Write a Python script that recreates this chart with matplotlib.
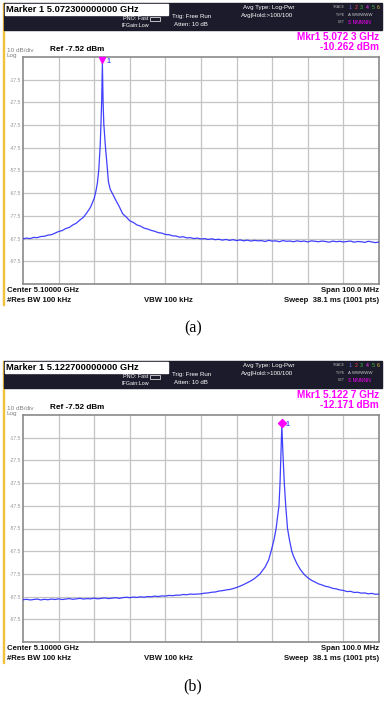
import matplotlib.pyplot as plt
from matplotlib.patches import Rectangle
import matplotlib.transforms as mtransforms

plt.rcParams['font.family'] = ['Liberation Sans', 'DejaVu Sans']

W, H = 386, 701

# analyser settings
center_ghz = 5.10
span_ghz = 0.10
ref_level = -7.52
db_per_div = 10
ytick_labels = ["-17.5", "-27.5", "-37.5", "-47.5", "-57.5", "-67.5", "-77.5", "-87.5", "-97.5"]

# trace (a)
freq_a = [5.050, 5.051, 5.052, 5.053, 5.054, 5.055, 5.056, 5.057, 5.058, 5.059,
          5.060, 5.061, 5.062, 5.063, 5.064, 5.065, 5.066, 5.067, 5.068, 5.069,
          5.070, 5.0705, 5.0709, 5.0713, 5.0717, 5.0719, 5.0721, 5.0723, 5.0725, 5.0727,
          5.0731, 5.0736, 5.0740, 5.0745, 5.0751, 5.076, 5.077, 5.078, 5.079, 5.080,
          5.081, 5.082, 5.083, 5.084, 5.085, 5.086, 5.087, 5.088, 5.089, 5.090,
          5.091, 5.092, 5.093, 5.094, 5.095, 5.096, 5.097, 5.098, 5.099, 5.100,
          5.101, 5.102, 5.103, 5.104, 5.105, 5.106, 5.107, 5.108, 5.109, 5.110,
          5.111, 5.112, 5.113, 5.114, 5.115, 5.116, 5.117, 5.118, 5.119, 5.120,
          5.121, 5.122, 5.123, 5.124, 5.125, 5.126, 5.127, 5.128, 5.129, 5.130,
          5.131, 5.132, 5.133, 5.134, 5.135, 5.136, 5.137, 5.138, 5.139, 5.140,
          5.141, 5.142, 5.143, 5.144, 5.145, 5.146, 5.147, 5.148, 5.149, 5.150]
level_a = [-87.6, -87.3, -87.5, -87.0, -87.1, -86.6, -86.5, -86.0, -85.8, -85.1,
           -84.4, -84.0, -83.1, -82.6, -81.5, -80.7, -79.3, -78.1, -76.0, -73.6,
           -69.8, -66.5, -63.0, -57.0, -46.0, -37.0, -27.0, -10.262, -27.5, -37.0,
           -46.0, -55.0, -62.5, -65.8, -67.6, -70.4, -73.3, -76.6, -78.0, -79.7,
           -80.4, -81.5, -82.0, -82.9, -83.3, -83.9, -84.3, -84.9, -85.1, -85.7,
           -85.8, -86.3, -86.4, -86.9, -86.7, -87.2, -87.1, -87.5, -87.3, -87.7,
           -87.5, -87.9, -87.6, -88.0, -87.8, -88.2, -87.9, -88.3, -88.0, -88.4,
           -88.1, -88.5, -88.2, -88.6, -88.3, -88.5, -88.4, -88.8, -88.3, -88.6,
           -88.5, -88.9, -88.4, -88.7, -88.6, -88.9, -88.5, -88.8, -88.6, -89.0,
           -88.5, -88.7, -88.9, -88.6, -88.8, -89.1, -88.6, -88.9, -88.7, -89.0,
           -88.8, -88.6, -89.1, -88.8, -88.9, -89.2, -88.7, -89.0, -89.3, -89.0]
marker_a = (5.0723, -10.262)

# trace (b)
freq_b = [5.050, 5.051, 5.052, 5.053, 5.054, 5.055, 5.056, 5.057, 5.058, 5.059,
          5.060, 5.061, 5.062, 5.063, 5.064, 5.065, 5.066, 5.067, 5.068, 5.069,
          5.070, 5.071, 5.072, 5.073, 5.074, 5.075, 5.076, 5.077, 5.078, 5.079,
          5.080, 5.081, 5.082, 5.083, 5.084, 5.085, 5.086, 5.087, 5.088, 5.089,
          5.090, 5.091, 5.092, 5.093, 5.094, 5.095, 5.096, 5.097, 5.098, 5.099,
          5.100, 5.101, 5.102, 5.103, 5.104, 5.105, 5.106, 5.107, 5.108, 5.109,
          5.110, 5.111, 5.112, 5.113, 5.114, 5.115, 5.116, 5.1166, 5.117, 5.118,
          5.119, 5.1197, 5.1205, 5.1211, 5.1219, 5.1222, 5.1224, 5.1227, 5.1231, 5.1234,
          5.1238, 5.1243, 5.1249, 5.1255, 5.126, 5.127, 5.128, 5.129, 5.130, 5.131,
          5.132, 5.133, 5.134, 5.135, 5.136, 5.137, 5.138, 5.139, 5.140, 5.141,
          5.142, 5.143, 5.144, 5.145, 5.146, 5.147, 5.148, 5.149, 5.150]
level_b = [-88.9, -88.7, -89.0, -88.8, -88.6, -89.0, -88.7, -88.9, -88.6, -88.8,
           -88.5, -88.8, -88.6, -88.4, -88.7, -88.5, -88.3, -88.6, -88.4, -88.5,
           -88.2, -88.5, -88.3, -88.1, -88.4, -88.2, -88.0, -88.3, -88.0, -87.8,
           -88.0, -87.7, -87.9, -87.6, -87.8, -87.5, -87.6, -87.3, -87.5, -87.2,
           -87.3, -87.0, -87.1, -86.9, -86.9, -86.6, -86.7, -86.4, -86.5, -86.4,
           -86.3, -86.0, -85.9, -85.6, -85.5, -85.1, -84.9, -84.6, -84.4, -84.0,
           -83.5, -82.9, -82.2, -81.4, -80.6, -79.6, -78.3, -77.5, -76.6, -74.5,
           -71.4, -67.5, -62.5, -57.5, -47.5, -37.5, -27.5, -12.171, -27.5, -37.5,
           -47.5, -57.5, -63.0, -67.5, -69.8, -73.2, -75.8, -77.8, -79.2, -80.3,
           -81.1, -81.9, -82.4, -83.0, -83.3, -83.9, -84.1, -84.6, -84.8, -85.3,
           -85.2, -85.7, -85.6, -86.0, -85.9, -86.3, -86.1, -86.5, -86.4]
marker_b = (5.1227, -12.171)

DARK = '#1b1b2b'
MAG = '#ff00ff'
TRACE = '#2b2bff'


def fx(x):
    return x / W


def fy(y):
    return 1 - y / H


def draw_panel(fig, off, freq, level, mkr, marker_title, mkr_freq_txt, mkr_lvl_txt, mshape, caption):
    def txt(x, y, s, **kw):
        kw.setdefault('va', 'center')
        fig.text(fx(x), fy(y + off), s, **kw)

    # left yellow edge + header band
    fig.patches.append(Rectangle((fx(2.5), fy(off + 305)), 1.6 / W, 302 / H,
                                 transform=fig.transFigure, color='#f3c13a', zorder=1))
    fig.patches.append(Rectangle((fx(4), fy(off + 30)), 378 / W, 27 / H,
                                 transform=fig.transFigure, color=DARK, zorder=1))
    fig.patches.append(Rectangle((fx(5), fy(off + 15)), 163 / W, 11 / H,
                                 transform=fig.transFigure, color='white', zorder=2))

    txt(6, 9.5, marker_title, fontsize=6.7, fontweight='bold', color='black', zorder=3)
    txt(123, 18.5, "PNO: Fast", fontsize=3.9, color='white')
    txt(122, 25.5, "IFGain:Low", fontsize=3.9, color='white')
    fig.patches.append(Rectangle((fx(150), fy(off + 21)), 10 / W, 4 / H, transform=fig.transFigure,
                                 fill=False, ec='white', lw=0.5, zorder=3))
    txt(172, 16.5, "Trig: Free Run", fontsize=4.4, color='white')
    txt(174, 24.5, "Atten: 10 dB", fontsize=4.4, color='white')
    txt(243, 7.5, "Avg Type: Log-Pwr", fontsize=4.4, color='white')
    txt(241, 15, "Avg|Hold:>100/100", fontsize=4.4, color='white')
    txt(345, 7.5, "TRACE", fontsize=2.6, color='#bbbbbb', ha='right')
    txt(345, 15, "TYPE", fontsize=2.6, color='#bbbbbb', ha='right')
    txt(345, 22, "DET", fontsize=2.6, color='#bbbbbb', ha='right')
    trace_cols = ['#6a6aff', '#ff4040', '#40c040', '#ff40ff', '#40c040', '#e0c040']
    for i, c in enumerate(trace_cols):
        txt(349 + i * 5.6, 7.5, str(i + 1), fontsize=3.8, color=c)
    txt(348, 15, "A WWWWW", fontsize=3.2, color='#cccccc')
    txt(348, 22.5, "S NNNNN", fontsize=3.6, color=MAG)

    txt(379, 36.5, mkr_freq_txt, fontsize=7.2, fontweight='bold', color=MAG, ha='right')
    txt(379, 47.5, mkr_lvl_txt, fontsize=7.2, fontweight='bold', color=MAG, ha='right')
    txt(7, 50, "10 dB/div", fontsize=4.6, color='#808080')
    txt(7, 55.5, "Log", fontsize=4.6, color='#808080')
    txt(50, 49.5, "Ref -7.52 dBm", fontsize=5.9, fontweight='bold', color='black')

    # graticule
    top, bot, left, right = off + 57, off + 284, 23, 379
    ax = fig.add_axes([fx(left), fy(bot), (right - left) / W, (bot - top) / H])
    f0, f1 = center_ghz - span_ghz / 2, center_ghz + span_ghz / 2
    ax.set_xlim(f0, f1)
    ax.set_ylim(ref_level - 10 * db_per_div, ref_level)
    ax.set_xticks([f0 + span_ghz * k / 10 for k in range(1, 10)])
    ax.set_yticks([ref_level - db_per_div * k for k in range(1, 10)])
    ax.set_yticklabels(ytick_labels, fontsize=3.6, color='#999999')
    ax.set_xticklabels([])
    ax.tick_params(length=0, pad=1.2)
    ax.grid(True, color='#c4c4c4', lw=0.9)
    for s in ax.spines.values():
        s.set_color('#8a8a8a')
        s.set_linewidth(1.2)

    ax.plot(freq, level, color=TRACE, lw=0.9, alpha=0.9, zorder=3)
    shift = mtransforms.offset_copy(ax.transData, fig=fig, x=0, y=2.0, units='points')
    ax.plot([mkr[0]], [mkr[1]], marker=mshape, color=MAG, ms=4.2, transform=shift,
            clip_on=False, zorder=4, mec=MAG)
    ax.annotate("1", (mkr[0], mkr[1]), xytext=(3, 1), textcoords='offset points',
                fontsize=5, color='#4a4aff', fontweight='bold', va='center', annotation_clip=False)

    txt(7, 290.5, "Center 5.10000 GHz", fontsize=5.6, fontweight='bold', color='#111111')
    txt(379, 290.5, "Span 100.0 MHz", fontsize=5.6, fontweight='bold', color='#111111', ha='right')
    txt(7, 300.5, "#Res BW 100 kHz", fontsize=5.6, fontweight='bold', color='#111111')
    txt(168, 300.5, "VBW 100 kHz", fontsize=5.6, fontweight='bold', color='#111111', ha='center')
    txt(379, 300.5, "Sweep  38.1 ms (1001 pts)", fontsize=5.6, fontweight='bold', color='#111111', ha='right')

    txt(193, 328, caption, fontsize=11.5, family='Liberation Serif', color='black', ha='center')


fig = plt.figure(figsize=(W / 100, H / 100), dpi=100)
draw_panel(fig, 0, freq_a, level_a, marker_a, "Marker 1 5.072300000000 GHz",
           "Mkr1 5.072 3 GHz", "-10.262 dBm", 'v', "(a)")
draw_panel(fig, 358, freq_b, level_b, marker_b, "Marker 1 5.122700000000 GHz",
           "Mkr1 5.122 7 GHz", "-12.171 dBm", 'D', "(b)")

fig.savefig("out.png", dpi=100)
